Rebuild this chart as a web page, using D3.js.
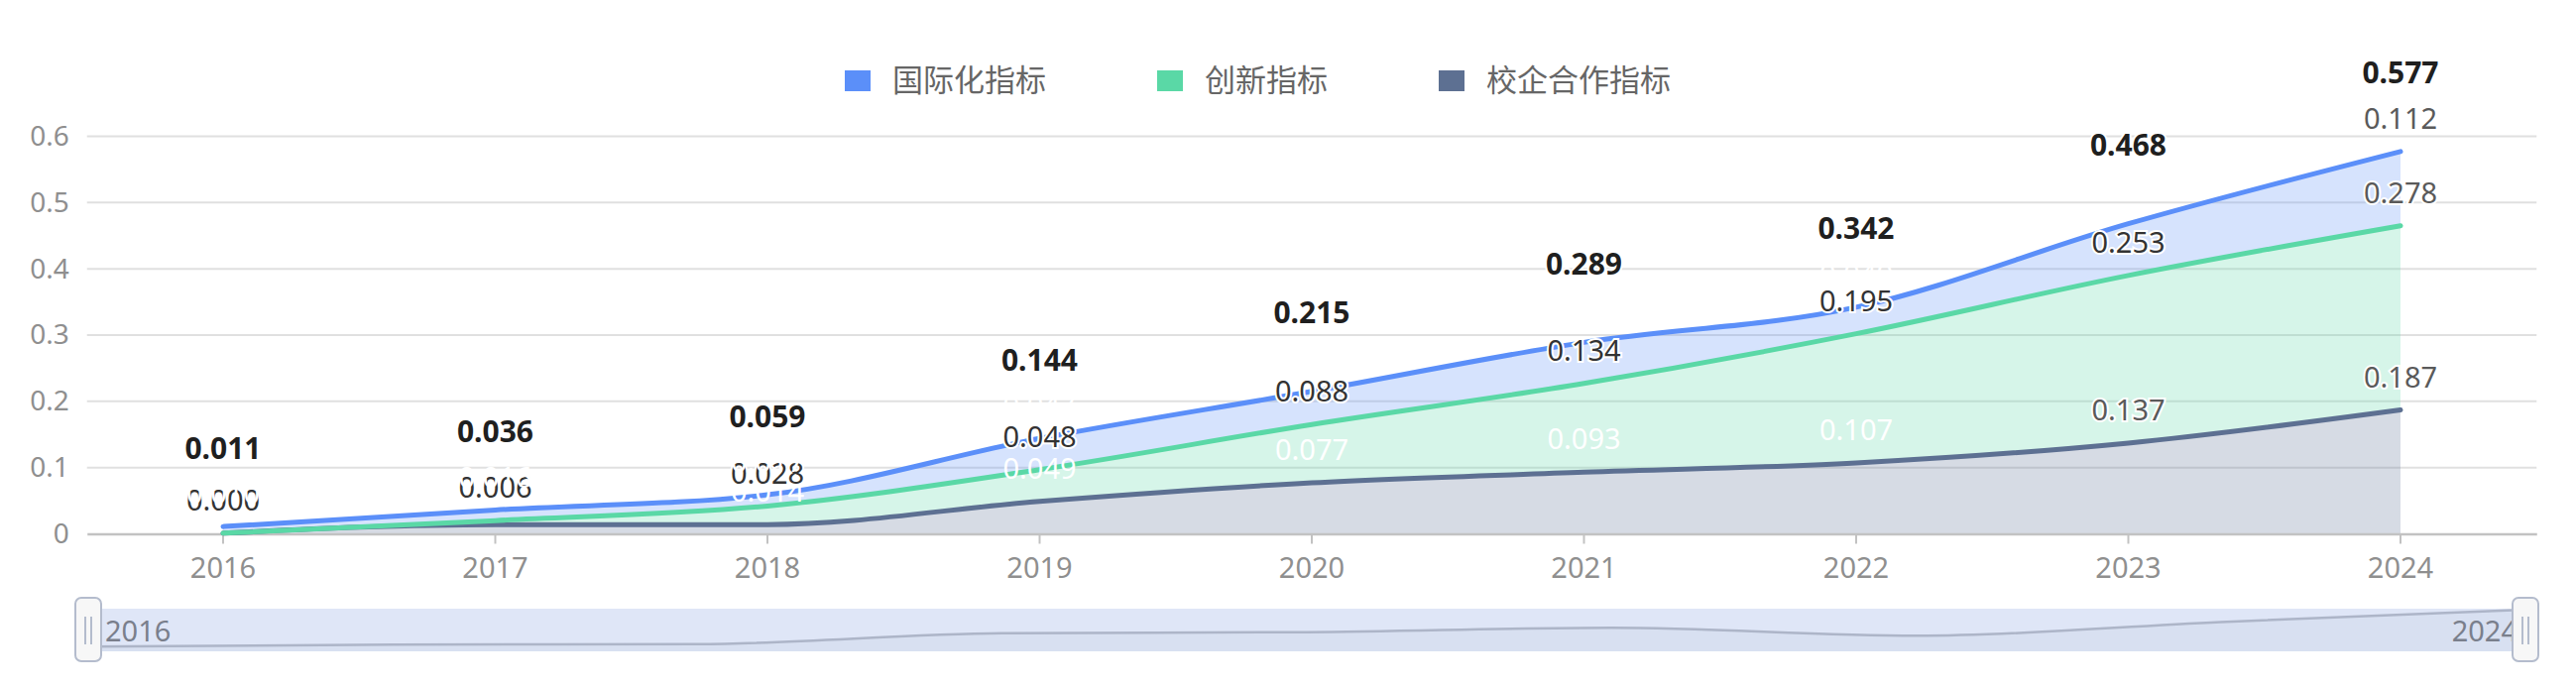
<!DOCTYPE html>
<html>
<head>
<meta charset="utf-8">
<script src="https://cdn.jsdelivr.net/npm/d3@7/dist/d3.min.js"></script>
<style>
  html, body { margin: 0; padding: 0; background: #fff; }
  svg { display: block; }
  text { font-family: "Noto Sans", "Noto Sans CJK SC", sans-serif; }
</style>
</head>
<body>
<svg id="chart" width="2598" height="693"></svg>
<script>
// ---- data ----
const years = ["2016", "2017", "2018", "2019", "2020", "2021", "2022", "2023", "2024"];
const intlValues = [0.010, 0.016, 0.017, 0.047, 0.050, 0.062, 0.040, 0.078, 0.112];   // 国际化指标
const innovValues = [0.000, 0.006, 0.028, 0.048, 0.088, 0.134, 0.195, 0.253, 0.278];  // 创新指标
const coopValues = [0.001, 0.014, 0.014, 0.049, 0.077, 0.093, 0.107, 0.137, 0.187];   // 校企合作指标
const totalValues = [0.011, 0.036, 0.059, 0.144, 0.215, 0.289, 0.342, 0.468, 0.577];
const seriesNames = ["国际化指标", "创新指标", "校企合作指标"];
const yTicks = [0, 0.1, 0.2, 0.3, 0.4, 0.5, 0.6];

// ---- styles ----
const colors = { "国际化指标": "#5B8FF9", "创新指标": "#5AD8A6", "校企合作指标": "#5D7092" };
const fills = { "国际化指标": "rgba(91,143,249,0.25)", "创新指标": "rgba(90,216,166,0.25)", "校企合作指标": "rgba(93,112,146,0.25)" };
const DARK = "#333", GRAY = "#5a5a5a", WHITE = "#fff";
function labelColor(name, i) {
  if (name === "国际化指标") return i === 8 ? GRAY : WHITE;
  if (name === "创新指标") return i === 8 ? GRAY : DARK;
  return i >= 7 ? GRAY : WHITE;
}

const svg = d3.select("#chart");

const rows = years.map((yr, i) => ({
  year: yr,
  "校企合作指标": coopValues[i],
  "创新指标": innovValues[i],
  "国际化指标": intlValues[i],
  total: totalValues[i]
}));
const stackKeys = ["校企合作指标", "创新指标", "国际化指标"];
const stacked = d3.stack().keys(stackKeys)(rows);

const x = d3.scaleBand().domain(years).range([87.75, 2558.25]);
const cx = d => x(d) + x.bandwidth() / 2;
const y = d3.scaleLinear().domain([0, 0.6]).range([538.5, 137.5]);

// grid
svg.append("g").selectAll("line").data(yTicks.filter(t => t > 0)).join("line")
  .attr("x1", 87.75).attr("x2", 2558.25)
  .attr("y1", d => y(d)).attr("y2", d => y(d))
  .attr("stroke", "#e0e0e0").attr("stroke-width", 2);

// y axis labels
const yAxis = d3.axisLeft(y).tickValues(yTicks).tickSize(0).tickPadding(18)
  .tickFormat(d => d === 0 ? "0" : d3.format(".1f")(d));
const gy = svg.append("g").attr("transform", "translate(87.75,0)").call(yAxis);
gy.select(".domain").remove();
gy.selectAll("text").attr("font-size", 28).attr("fill", "#8f8f8f")
  .attr("font-family", "'Noto Sans', sans-serif");

// areas
const area = d3.area().curve(d3.curveMonotoneX)
  .x(d => cx(d.data.year)).y0(d => y(d[0])).y1(d => y(d[1]));
const line = d3.line().curve(d3.curveMonotoneX)
  .x(d => cx(d.data.year)).y(d => y(d[1]));

svg.append("g").selectAll("path").data(stacked).join("path")
  .attr("d", area).attr("fill", d => fills[d.key]);

// x axis
const xAxis = d3.axisBottom(x).tickSizeInner(10).tickSizeOuter(0).tickPadding(14);
const gx = svg.append("g").attr("transform", `translate(0,${y(0)})`).call(xAxis);
gx.select(".domain").attr("stroke", "#c2c2c2").attr("stroke-width", 2.5);
gx.selectAll(".tick line").attr("stroke", "#c2c2c2").attr("stroke-width", 2);
gx.selectAll("text").attr("font-size", 29).attr("fill", "#8f8f8f")
  .attr("font-family", "'Noto Sans', sans-serif");

// lines
svg.append("g").selectAll("path").data(stacked).join("path")
  .attr("d", line).attr("fill", "none")
  .attr("stroke", d => colors[d.key]).attr("stroke-width", 5)
  .attr("stroke-linejoin", "round").attr("stroke-linecap", "round");

// series labels (drawn in stacking order)
stackKeys.forEach(name => {
  const s = stacked.find(k => k.key === name);
  svg.append("g").selectAll("text").data(s).join("text")
    .attr("x", d => cx(d.data.year))
    .attr("y", d => y(d[1]) - 33)
    .attr("dy", "0.35em")
    .attr("text-anchor", "middle")
    .attr("font-size", 29)
    .attr("fill", (d, i) => labelColor(name, i))
    .attr("stroke", (d, i) => labelColor(name, i) === WHITE ? "none" : "#fff")
    .attr("stroke-width", 4)
    .attr("paint-order", "stroke")
    .text(d => d3.format(".3f")(d.data[name]));
});

// total labels
svg.append("g").selectAll("text").data(rows).join("text")
  .attr("x", d => cx(d.year))
  .attr("y", d => y(d.total) - 79)
  .attr("dy", "0.35em")
  .attr("text-anchor", "middle")
  .attr("font-size", 30)
  .attr("font-weight", "bold")
  .attr("fill", "#1f1f1f")
  .attr("stroke", "#fff").attr("stroke-width", 4).attr("paint-order", "stroke")
  .text(d => d3.format(".3f")(d.total));

// legend
const legend = svg.append("g");
let lx = 852;
seriesNames.forEach(name => {
  const g = legend.append("g");
  g.append("rect").attr("x", lx).attr("y", 71).attr("width", 26).attr("height", 21)
    .attr("fill", colors[name]);
  const t = g.append("text").attr("x", lx + 48).attr("y", 81).attr("dy", "0.35em")
    .attr("font-size", 31).attr("fill", "#666")
    .attr("font-family", "'Noto Sans CJK SC', sans-serif")
    .text(name);
  lx += 48 + t.node().getComputedTextLength() + 112;
});

// data zoom slider
const sx0 = 89, sx1 = 2547, sy0 = 614, sy1 = 657;
svg.append("rect").attr("x", sx0).attr("y", sy0).attr("width", sx1 - sx0).attr("height", sy1 - sy0)
  .attr("fill", "#dfe6f7");
const sx = d3.scalePoint().domain(years).range([sx0, sx1]);
const sy = d3.scaleLinear().domain([0, d3.max(intlValues)]).range([sy1 - 1, sy0 + 1]);
const shadowLine = d3.line().curve(d3.curveMonotoneX).x((d, i) => sx(years[i])).y(d => sy(d));
const shadowArea = d3.area().curve(d3.curveMonotoneX).x((d, i) => sx(years[i])).y0(sy1).y1(d => sy(d));
svg.append("path").attr("d", shadowArea(intlValues)).attr("fill", "rgba(170,180,200,0.12)");
svg.append("path").attr("d", shadowLine(intlValues)).attr("fill", "none")
  .attr("stroke", "#adb5c8").attr("stroke-width", 2.5);

svg.append("text").attr("x", 106).attr("y", 637).attr("dy", "0.35em")
  .attr("font-size", 29).attr("fill", "#7a7f8c").text(years[0]);
svg.append("text").attr("x", 2539).attr("y", 637).attr("dy", "0.35em").attr("text-anchor", "end")
  .attr("font-size", 29).attr("fill", "#7a7f8c").text(years[years.length - 1]);

[sx0, sx1].forEach(hx => {
  const g = svg.append("g");
  g.append("rect").attr("x", hx - 13).attr("y", 603).attr("width", 26).attr("height", 64)
    .attr("rx", 6).attr("fill", "#f7f7f7").attr("stroke", "#b4bccd").attr("stroke-width", 2);
  [-3, 3].forEach(o => g.append("line").attr("x1", hx + o).attr("x2", hx + o)
    .attr("y1", 622).attr("y2", 650).attr("stroke", "#b4bccd").attr("stroke-width", 2));
});
</script>
</body>
</html>
